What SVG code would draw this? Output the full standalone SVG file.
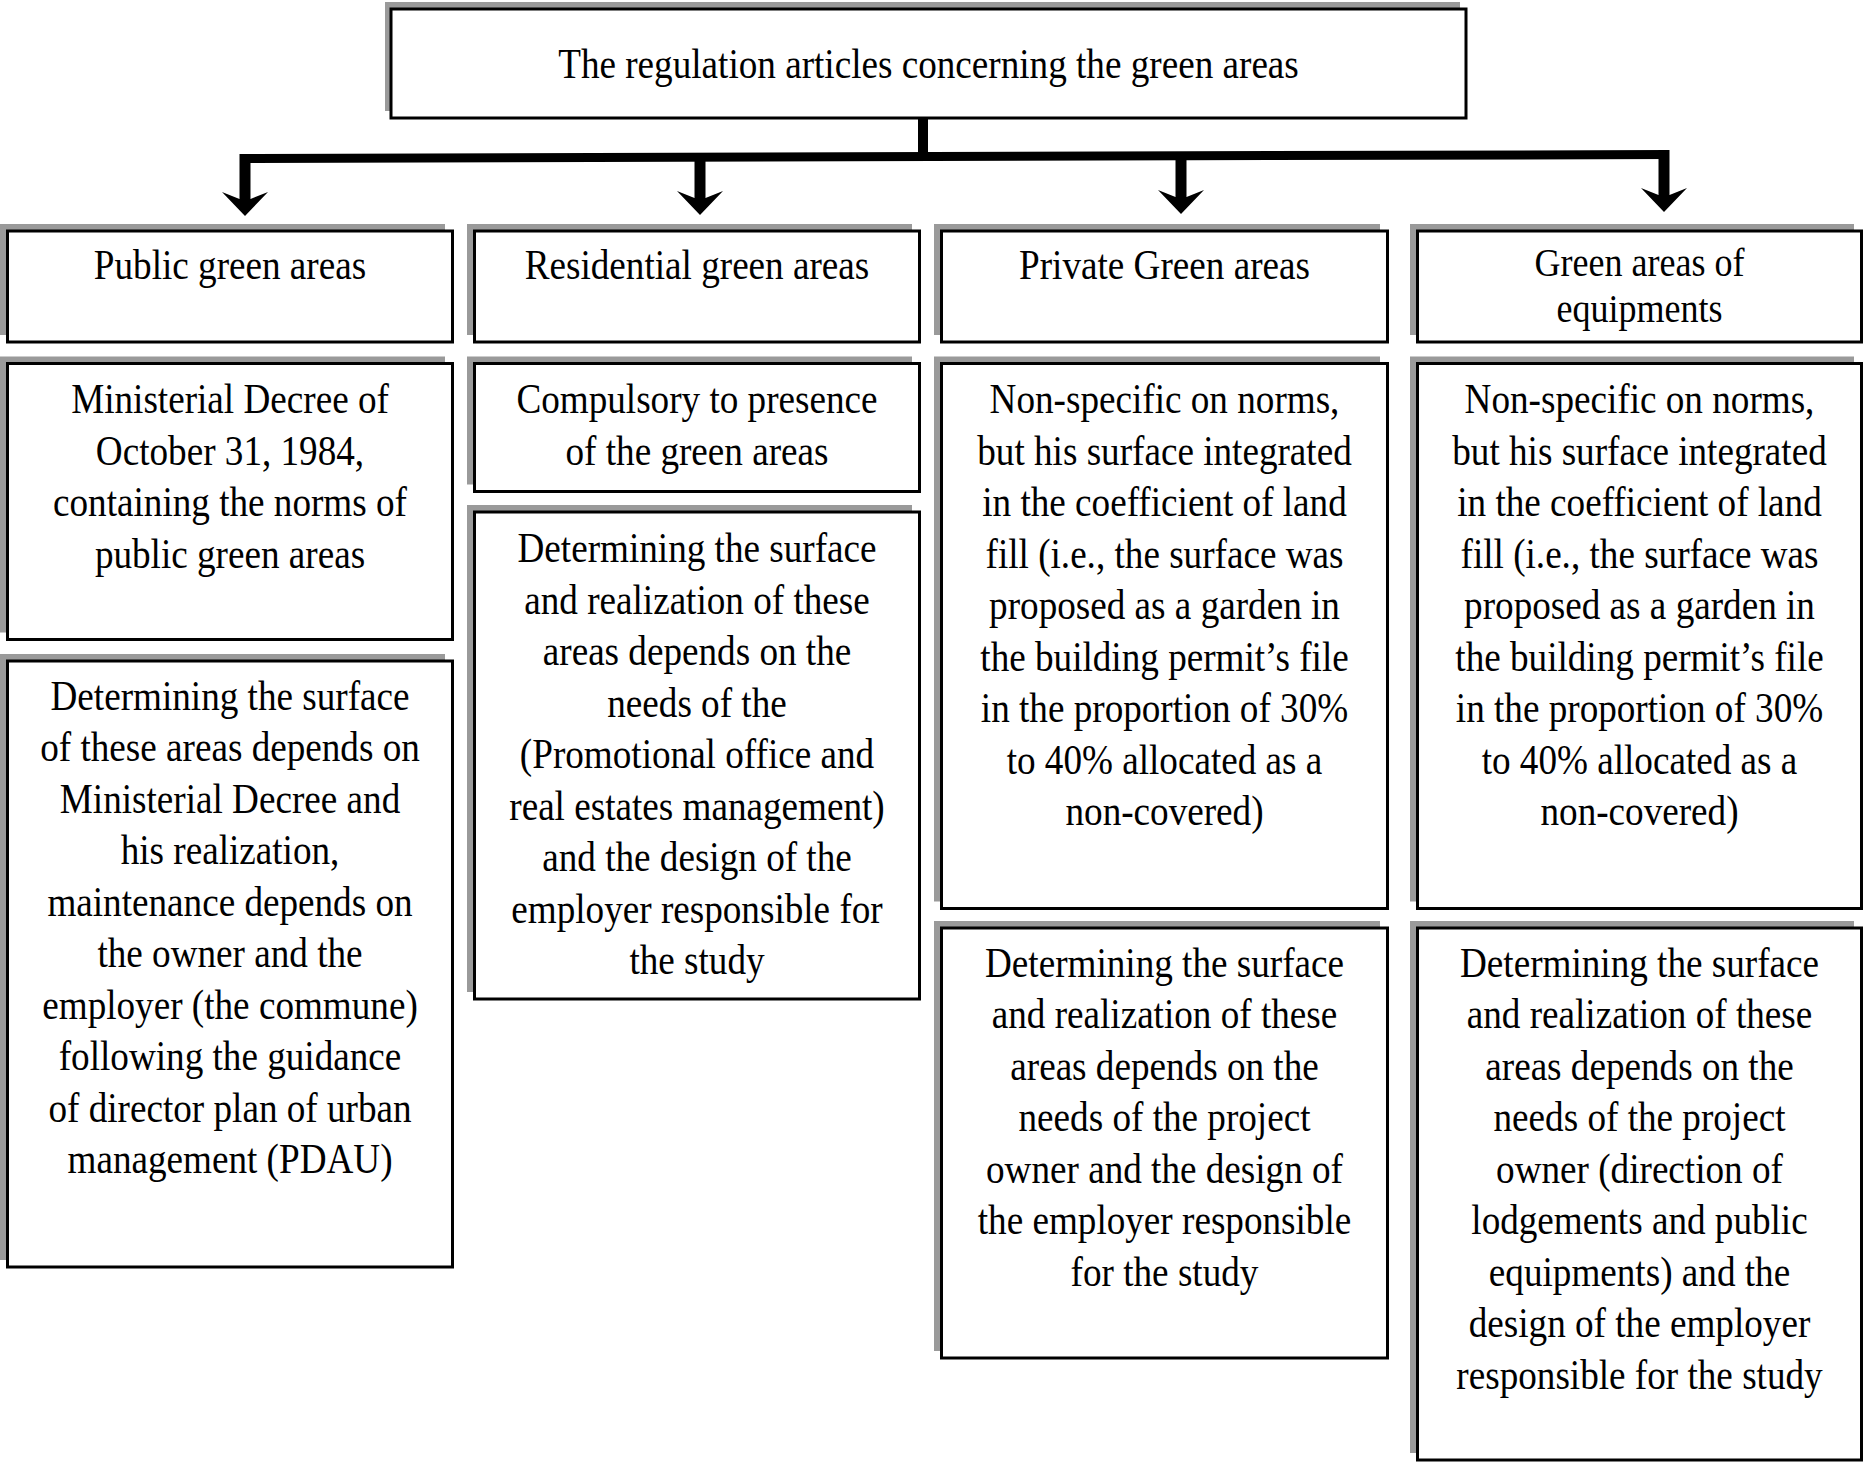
<svg xmlns="http://www.w3.org/2000/svg" width="1866" height="1465" viewBox="0 0 1866 1465">
<style>
.sh{fill:#9a9a9a;stroke:none}
.bx{fill:#fff;stroke:#000;stroke-width:3}
.t{font-family:"Liberation Serif","Times New Roman",serif;font-size:42px;text-anchor:middle;fill:#000}
.cn{stroke:#000;stroke-width:11;fill:none}
</style>
<defs>
<marker id="ah" markerUnits="userSpaceOnUse" viewBox="0 -24 25 48" markerWidth="25" markerHeight="48" refX="8" refY="0" orient="auto">
<path d="M0,-23 L24,0 L0,23 L7,5.5 L7,-5.5 Z" fill="#000"/>
</marker>
</defs>
<rect width="1866" height="1465" fill="#fff"/>

<g id="connectors">
<path d="M923,118 V157" stroke="#000" stroke-width="10" fill="none"/>
<path d="M240,158.5 L1669,154.5" stroke="#000" stroke-width="9" fill="none"/>
<line class="cn" x1="245" y1="154" x2="245" y2="200" marker-end="url(#ah)"/>
<line class="cn" x1="700" y1="153" x2="700" y2="199" marker-end="url(#ah)"/>
<line class="cn" x1="1181" y1="152" x2="1181" y2="198" marker-end="url(#ah)"/>
<line class="cn" x1="1664" y1="150" x2="1664" y2="196" marker-end="url(#ah)"/>
</g>

<g id="title">
<rect class="sh" x="385" y="2" width="1075" height="109"/>
<rect class="bx" x="391" y="9" width="1075" height="109"/>
<text class="t" transform="matrix(0.885 0 0 1 928.5 0)"><tspan x="0" y="78.5">The regulation articles concerning the green areas</tspan></text>
</g>

<g id="public-head">
<rect class="sh" x="0" y="224" width="445" height="111"/>
<rect class="bx" x="7.5" y="231" width="445" height="111"/>
<text class="t" transform="matrix(0.885 0 0 1 230 0)"><tspan x="0" y="279.5">Public green areas</tspan></text>
</g>
<g id="residential-head">
<rect class="sh" x="467" y="224" width="445" height="111"/>
<rect class="bx" x="474.5" y="231" width="445" height="111"/>
<text class="t" transform="matrix(0.885 0 0 1 697 0)"><tspan x="0" y="279.5">Residential green areas</tspan></text>
</g>
<g id="private-head">
<rect class="sh" x="934" y="224" width="446" height="111"/>
<rect class="bx" x="941.5" y="231" width="446" height="111"/>
<text class="t" transform="matrix(0.885 0 0 1 1164.5 0)"><tspan x="0" y="279.5">Private Green areas</tspan></text>
</g>
<g id="equipments-head">
<rect class="sh" x="1410" y="224" width="444" height="111"/>
<rect class="bx" x="1417.5" y="231" width="444" height="111"/>
<text class="t" style="font-size:40px" transform="matrix(0.9 0 0 1 1639.5 0)"><tspan x="0" y="276">Green areas of</tspan><tspan x="0" y="322">equipments</tspan></text>
</g>

<g id="public-norm">
<rect class="sh" x="0" y="356.5" width="445" height="276"/>
<rect class="bx" x="7.5" y="363.5" width="445" height="276"/>
<text class="t" transform="matrix(0.885 0 0 1 230 0)"><tspan x="0" y="413.5">Ministerial Decree of</tspan><tspan x="0" y="465">October 31, 1984,</tspan><tspan x="0" y="516.5">containing the norms of</tspan><tspan x="0" y="568">public green areas</tspan></text>
</g>
<g id="residential-norm">
<rect class="sh" x="467" y="356.5" width="445" height="128"/>
<rect class="bx" x="474.5" y="363.5" width="445" height="128"/>
<text class="t" transform="matrix(0.885 0 0 1 697 0)"><tspan x="0" y="413.5">Compulsory to presence</tspan><tspan x="0" y="465">of the green areas</tspan></text>
</g>
<g id="private-norm">
<rect class="sh" x="934" y="356.5" width="446" height="545"/>
<rect class="bx" x="941.5" y="363.5" width="446" height="545"/>
<text class="t" transform="matrix(0.885 0 0 1 1164.5 0)"><tspan x="0" y="413.5">Non-specific on norms,</tspan><tspan x="0" y="465">but his surface integrated</tspan><tspan x="0" y="516.5">in the coefficient of land</tspan><tspan x="0" y="568">fill (i.e., the surface was</tspan><tspan x="0" y="619.5">proposed as a garden in</tspan><tspan x="0" y="671">the building permit’s file</tspan><tspan x="0" y="722.5">in the proportion of 30%</tspan><tspan x="0" y="774">to 40% allocated as a</tspan><tspan x="0" y="825.5">non-covered)</tspan></text>
</g>
<g id="equipments-norm">
<rect class="sh" x="1410" y="356.5" width="444" height="545"/>
<rect class="bx" x="1417.5" y="363.5" width="444" height="545"/>
<text class="t" transform="matrix(0.885 0 0 1 1639.5 0)"><tspan x="0" y="413.5">Non-specific on norms,</tspan><tspan x="0" y="465">but his surface integrated</tspan><tspan x="0" y="516.5">in the coefficient of land</tspan><tspan x="0" y="568">fill (i.e., the surface was</tspan><tspan x="0" y="619.5">proposed as a garden in</tspan><tspan x="0" y="671">the building permit’s file</tspan><tspan x="0" y="722.5">in the proportion of 30%</tspan><tspan x="0" y="774">to 40% allocated as a</tspan><tspan x="0" y="825.5">non-covered)</tspan></text>
</g>

<g id="public-surface">
<rect class="sh" x="0" y="654" width="445" height="606"/>
<rect class="bx" x="7.5" y="661" width="445" height="606"/>
<text class="t" transform="matrix(0.885 0 0 1 230 0)"><tspan x="0" y="710">Determining the surface</tspan><tspan x="0" y="761.5">of these areas depends on</tspan><tspan x="0" y="813">Ministerial Decree and</tspan><tspan x="0" y="864.5">his realization,</tspan><tspan x="0" y="916">maintenance depends on</tspan><tspan x="0" y="967.5">the owner and the</tspan><tspan x="0" y="1019">employer (the commune)</tspan><tspan x="0" y="1070.5">following the guidance</tspan><tspan x="0" y="1122">of director plan of urban</tspan><tspan x="0" y="1173.5">management (PDAU)</tspan></text>
</g>
<g id="residential-surface">
<rect class="sh" x="467" y="505" width="445" height="487"/>
<rect class="bx" x="474.5" y="512" width="445" height="487"/>
<text class="t" transform="matrix(0.885 0 0 1 697 0)"><tspan x="0" y="562.5">Determining the surface</tspan><tspan x="0" y="614">and realization of these</tspan><tspan x="0" y="665.5">areas depends on the</tspan><tspan x="0" y="717">needs of the</tspan><tspan x="0" y="768.5">(Promotional office and</tspan><tspan x="0" y="820">real estates management)</tspan><tspan x="0" y="871.5">and the design of the</tspan><tspan x="0" y="923">employer responsible for</tspan><tspan x="0" y="974.5">the study</tspan></text>
</g>
<g id="private-surface">
<rect class="sh" x="934" y="921" width="446" height="430"/>
<rect class="bx" x="941.5" y="928" width="446" height="430"/>
<text class="t" transform="matrix(0.885 0 0 1 1164.5 0)"><tspan x="0" y="977">Determining the surface</tspan><tspan x="0" y="1028.5">and realization of these</tspan><tspan x="0" y="1080">areas depends on the</tspan><tspan x="0" y="1131.5">needs of the project</tspan><tspan x="0" y="1183">owner and the design of</tspan><tspan x="0" y="1234.5">the employer responsible</tspan><tspan x="0" y="1286">for the study</tspan></text>
</g>
<g id="equipments-surface">
<rect class="sh" x="1410" y="921" width="444" height="532"/>
<rect class="bx" x="1417.5" y="928" width="444" height="532"/>
<text class="t" transform="matrix(0.885 0 0 1 1639.5 0)"><tspan x="0" y="977">Determining the surface</tspan><tspan x="0" y="1028.5">and realization of these</tspan><tspan x="0" y="1080">areas depends on the</tspan><tspan x="0" y="1131.5">needs of the project</tspan><tspan x="0" y="1183">owner (direction of</tspan><tspan x="0" y="1234.5">lodgements and public</tspan><tspan x="0" y="1286">equipments) and the</tspan><tspan x="0" y="1337.5">design of the employer</tspan><tspan x="0" y="1389">responsible for the study</tspan></text>
</g>
</svg>
